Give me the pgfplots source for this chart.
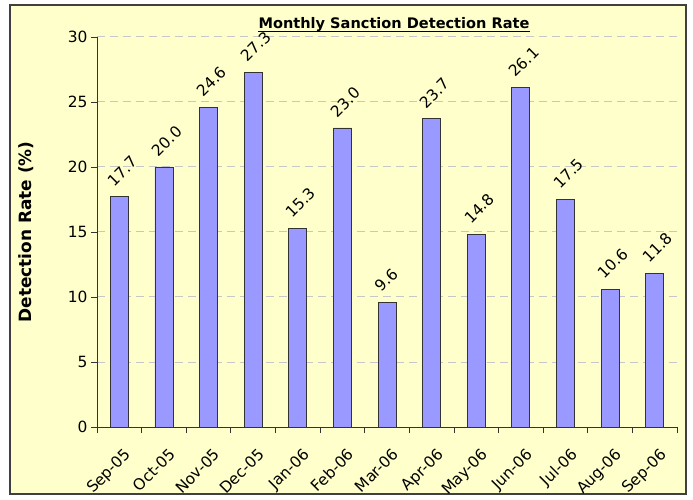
\documentclass[border=0pt]{standalone}
\usepackage{pgfplots}
\pgfplotsset{compat=1.18}
\usepackage{fontspec}
\setmainfont{DejaVu Sans}
\definecolor{bg}{HTML}{FFFFCC}
\definecolor{barc}{HTML}{9999FF}
\begin{document}
\begin{tikzpicture}
\path[use as bounding box, fill=white] (-97bp,-73bp) rectangle (596bp,427bp);
\filldraw[fill=bg, draw=black!75, line width=1.5bp] (-87bp,-67bp) rectangle (589bp,422bp);
\node[font=\bfseries\fontsize{14.6}{17}\selectfont, anchor=base, inner sep=0pt] (T) at (297bp,398bp) {Monthly Sanction Detection Rate};
\draw[line width=1.5bp, black] ([yshift=-2.5bp]T.base west) -- ([yshift=-2.5bp]T.base east);
\begin{axis}[
  at={(0,0)}, anchor=south west,
  width=580bp, height=390bp, scale only axis,
  xmin=-0.5, xmax=12.5, ymin=0, ymax=30,
  axis x line*=bottom, axis y line*=left,
  axis line style={black!80, line width=0.8bp},
  xtick={0,...,12},
  xticklabels={Sep-05,Oct-05,Nov-05,Dec-05,Jan-06,Feb-06,Mar-06,Apr-06,May-06,Jun-06,Jul-06,Aug-06,Sep-06},
  major x tick style={draw=none},
  minor xtick={-0.5,0.5,...,12.5},
  ytick={0,5,...,30},
  tick align=outside,
  major tick length=6bp, minor tick length=6bp,
  tick style={black!80, line width=0.8bp},
  ymajorgrids, grid style={dash pattern=on 8bp off 5bp, black!22, line width=1bp},
  /pgf/number format/assume math mode=true,
  tick label style={font=\fontsize{15.5}{18}\selectfont},
  x tick label style={rotate=45, anchor=north east, inner sep=0pt, xshift=-7bp, yshift=-13bp},
  ylabel={Detection Rate (\%)},
  ylabel style={font=\bfseries\fontsize{17}{20}\selectfont, at={(axis description cs:-0.1224,0.5)}, anchor=center},
  point meta=explicit symbolic,
  nodes near coords={\pgfplotspointmeta},
  every node near coord/.append style={font=\fontsize{15.5}{18}\selectfont, inner sep=0pt, xshift=-5bp, yshift=9bp, rotate=45, anchor=south west},
]
\addplot[ybar, bar width=18bp, fill=barc, draw=black!80, line width=0.8bp] coordinates {
(0,17.7) [17.7]
(1,20.0) [20.0]
(2,24.6) [24.6]
(3,27.3) [27.3]
(4,15.3) [15.3]
(5,23.0) [23.0]
(6,9.6) [9.6]
(7,23.7) [23.7]
(8,14.8) [14.8]
(9,26.1) [26.1]
(10,17.5) [17.5]
(11,10.6) [10.6]
(12,11.8) [11.8]
};
\end{axis}
\end{tikzpicture}
\end{document}
